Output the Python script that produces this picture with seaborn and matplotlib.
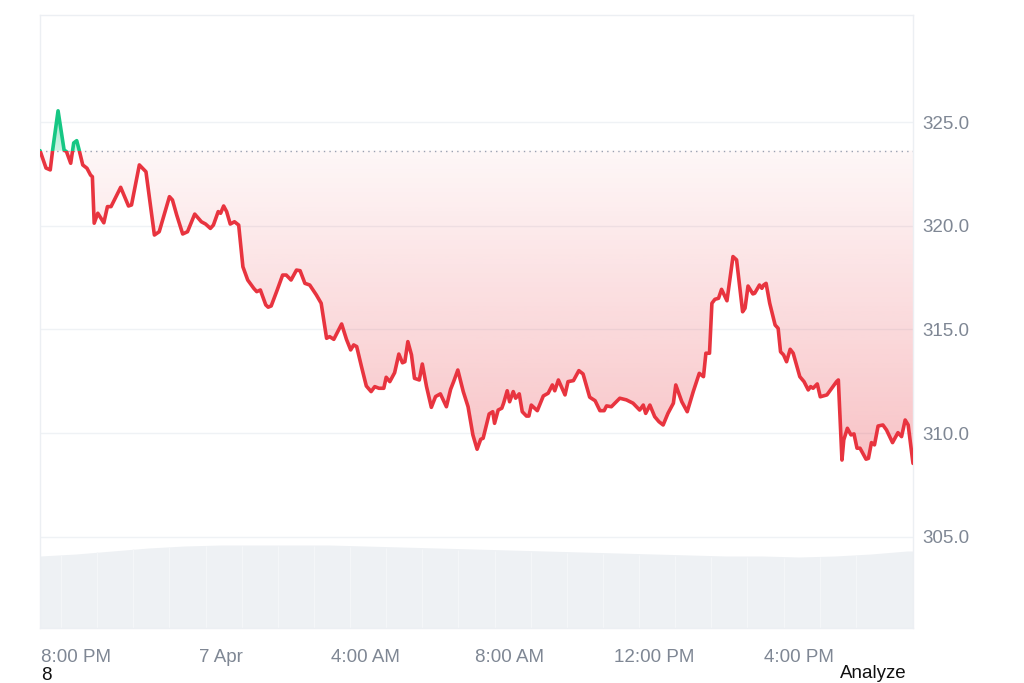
import numpy as np
import pandas as pd
import seaborn as sns
import matplotlib.pyplot as plt
from matplotlib.patches import Rectangle
from matplotlib.path import Path
from matplotlib.colors import to_rgb

# minutes since 7:00 PM (6 Apr) and price
minutes = [0, 10, 17, 21, 30, 40, 44, 51, 56, 61, 65, 71, 78, 84, 87, 90, 96, 106, 112, 118,
           134, 147, 152, 165, 176, 190, 198, 215, 220, 227, 237, 245, 257, 268, 275, 283, 288, 296, 300, 305,
           310, 316, 323, 330, 337, 345, 355, 360, 366, 375, 379, 384, 394, 403, 409, 417, 426, 432, 440, 448,
           459, 467, 476, 481, 488, 501, 509, 516, 521, 526, 534, 542, 550, 556, 563, 571, 575, 581, 589, 596,
           602, 606, 611, 617, 622, 630, 635, 642, 650, 657, 665, 675, 682, 687, 694, 703, 711, 719, 726, 732,
           736, 746, 752, 755, 761, 767, 770, 776, 780, 786, 790, 796, 801, 808, 812, 816, 826, 836, 844, 851,
           855, 861, 872, 877, 886, 895, 902, 913, 922, 930, 937, 941, 949, 963, 974, 985, 996, 1002, 1006, 1013,
           1021, 1028, 1035, 1043, 1052, 1056, 1066, 1075, 1085, 1095, 1102, 1106, 1112, 1116, 1121, 1127, 1132, 1141, 1151, 1157,
           1167, 1171, 1176, 1184, 1187, 1195, 1199, 1202, 1206, 1212, 1221, 1226, 1230, 1235, 1240, 1246, 1251, 1262, 1269, 1276,
           1280, 1284, 1291, 1296, 1307, 1315, 1323, 1326, 1332, 1335, 1341, 1347, 1352, 1357, 1362, 1372, 1376, 1381, 1386, 1392,
           1400, 1406, 1416, 1425, 1431, 1437, 1442, 1450]
price = [323.62, 322.78, 322.69, 323.65, 325.54, 323.65, 323.57, 323.01, 323.99, 324.10, 323.65, 322.93, 322.77, 322.44, 322.36, 320.12, 320.60, 320.14, 320.92, 320.92,
         321.85, 320.95, 321.00, 322.93, 322.60, 319.55, 319.71, 321.40, 321.24, 320.52, 319.60, 319.71, 320.56, 320.19, 320.08, 319.87, 320.03, 320.68, 320.60, 320.95,
         320.68, 320.08, 320.19, 320.03, 318.02, 317.38, 316.98, 316.82, 316.90, 316.18, 316.07, 316.13, 316.90, 317.62, 317.62, 317.38, 317.86, 317.83, 317.22, 317.14,
         316.66, 316.26, 314.57, 314.65, 314.52, 315.26, 314.52, 314.01, 314.25, 314.17, 313.20, 312.27, 312.00, 312.24, 312.16, 312.16, 312.69, 312.48, 312.91, 313.81,
         313.39, 313.44, 314.41, 313.77, 312.64, 312.56, 313.33, 312.24, 311.24, 311.76, 311.89, 311.27, 312.11, 312.48, 313.04, 312.00, 311.27, 309.91, 309.22, 309.70,
         309.75, 310.92, 311.03, 310.47, 311.11, 311.20, 311.44, 312.04, 311.51, 312.00, 311.68, 311.89, 311.03, 310.82, 310.82, 311.35, 311.08, 311.79, 311.92, 312.32,
         312.04, 312.56, 311.84, 312.48, 312.53, 313.01, 312.85, 311.73, 311.56, 311.08, 311.08, 311.31, 311.27, 311.68, 311.60, 311.44, 311.11, 311.35, 310.95, 311.35,
         310.79, 310.55, 310.39, 310.95, 311.44, 312.32, 311.51, 311.03, 312.00, 312.88, 312.72, 313.85, 313.85, 316.26, 316.45, 316.50, 316.93, 316.38, 318.51, 318.35,
         315.85, 316.02, 317.09, 316.71, 316.74, 317.14, 316.98, 317.14, 317.22, 316.26, 315.21, 315.05, 313.92, 313.77, 313.44, 314.04, 313.85, 312.72, 312.48, 312.08,
         312.24, 312.16, 312.37, 311.75, 311.84, 312.16, 312.48, 312.56, 308.70, 309.67, 310.23, 309.91, 309.96, 309.27, 309.27, 308.74, 308.78, 309.54, 309.43, 310.34,
         310.39, 310.15, 309.54, 310.02, 309.83, 310.63, 310.39, 308.54]

# volume (arbitrary units), roughly hourly
vol_minutes = [0, 60, 120, 180, 240, 300, 360, 420, 480, 540, 600, 660, 720,
               780, 840, 900, 960, 1020, 1080, 1140, 1200, 1260, 1320, 1380, 1440, 1450]
volume = [7.2, 7.4, 7.7, 8.0, 8.2, 8.3, 8.3, 8.3, 8.3, 8.2, 8.1, 8.0, 7.9,
          7.8, 7.7, 7.6, 7.5, 7.4, 7.3, 7.2, 7.2, 7.1, 7.2, 7.4, 7.7, 7.7]

baseline = 323.62
y_ticks = [305, 310, 315, 320, 325]
x_ticks = [60, 300, 540, 780, 1020, 1260]
x_labels = ['8:00 PM', '7 Apr', '4:00 AM', '8:00 AM', '12:00 PM', '4:00 PM']

RED = '#e8343f'
GREEN = '#16c784'
GRID = '#eff2f5'
TEXT = '#7f8794'

sns.set_theme(style='white')
plt.rcParams['font.family'] = ['Liberation Sans', 'DejaVu Sans']

fig = plt.figure(figsize=(10.24, 6.83), dpi=100)
pos = [40 / 1024, 55 / 683, 873 / 1024, 613 / 683]
xmax = 1450
ymin, ymax = 300.6, 330.16

# volume in the background
axv = fig.add_axes(pos)
vx = np.array(vol_minutes)
axv.fill_between(vx, volume, 0, color='#eef1f4', linewidth=0)
axv.vlines(vx[1:-2] - 25, 0, np.array(volume[1:-2]) - 0.05, color='#f4f6f8', linewidth=0.8)
axv.set_xlim(0, xmax)
axv.set_ylim(0, 61.3)
axv.axis('off')

ax = fig.add_axes(pos)
ax.patch.set_alpha(0)

df = pd.DataFrame({'minute': minutes, 'price': price})
x = np.array(minutes, dtype=float)
y = np.array(price)


def gradient_fill(mask, color, lo, hi, a_lo, a_hi):
    poly = ax.fill_between(x, y, baseline, where=mask, interpolate=True,
                           facecolor='none', edgecolor='none')
    grad = np.zeros((256, 1, 4))
    grad[..., :3] = to_rgb(color)
    grad[:, 0, 3] = np.linspace(a_lo, a_hi, 256)
    im = ax.imshow(grad, extent=[0, xmax, lo, hi], origin='lower',
                   aspect='auto', zorder=1)
    im.set_clip_path(Path.make_compound_path(*poly.get_paths()), ax.transData)


gradient_fill(y <= baseline, RED, 308.4, baseline, 0.30, 0.04)
gradient_fill(y >= baseline, GREEN, baseline, 325.6, 0.2, 0.45)

sns.lineplot(data=df, x='minute', y='price', color=RED, linewidth=2.6,
             errorbar=None, ax=ax, zorder=3)
sns.lineplot(data=df, x='minute', y='price', color=GREEN, linewidth=2.6,
             errorbar=None, ax=ax, zorder=3)
red_line, green_line = ax.get_lines()[-2:]
red_line.set_clip_path(Rectangle((0, 290), xmax, baseline - 290, transform=ax.transData))
green_line.set_clip_path(Rectangle((0, baseline), xmax, 20, transform=ax.transData))
for ln in (red_line, green_line):
    ln.set_solid_joinstyle('round')

ax.axhline(baseline, color='#9aa1b2', linestyle=(0, (1, 3)), linewidth=1, zorder=2)

ax.set_xlim(0, xmax)
ax.set_ylim(ymin, ymax)
ax.set_yticks(y_ticks)
ax.set_yticklabels([f'{v:.1f}' for v in y_ticks])
ax.yaxis.tick_right()
ax.set_xticks(x_ticks)
ax.set_xticklabels(x_labels)
ax.tick_params(axis='y', length=0, pad=6.5, labelsize=13.5, labelcolor=TEXT)
ax.tick_params(axis='x', length=0, pad=15, labelsize=13.5, labelcolor=TEXT)
ax.set_xlabel('')
ax.set_ylabel('')
ax.grid(axis='y', color=GRID, linewidth=1)
ax.set_axisbelow(True)
for s in ax.spines.values():
    s.set_color('#eceff3')
    s.set_linewidth(1)

fig.text(41 / 1024, 1 - 675 / 683, '8', fontsize=13.5, color='#111111', va='center')
fig.text(873 / 1024, 1 - 673 / 683, 'Analyze', fontsize=13.5, color='#111111',
         ha='center', va='center')

fig.savefig('out.png', dpi=100)
